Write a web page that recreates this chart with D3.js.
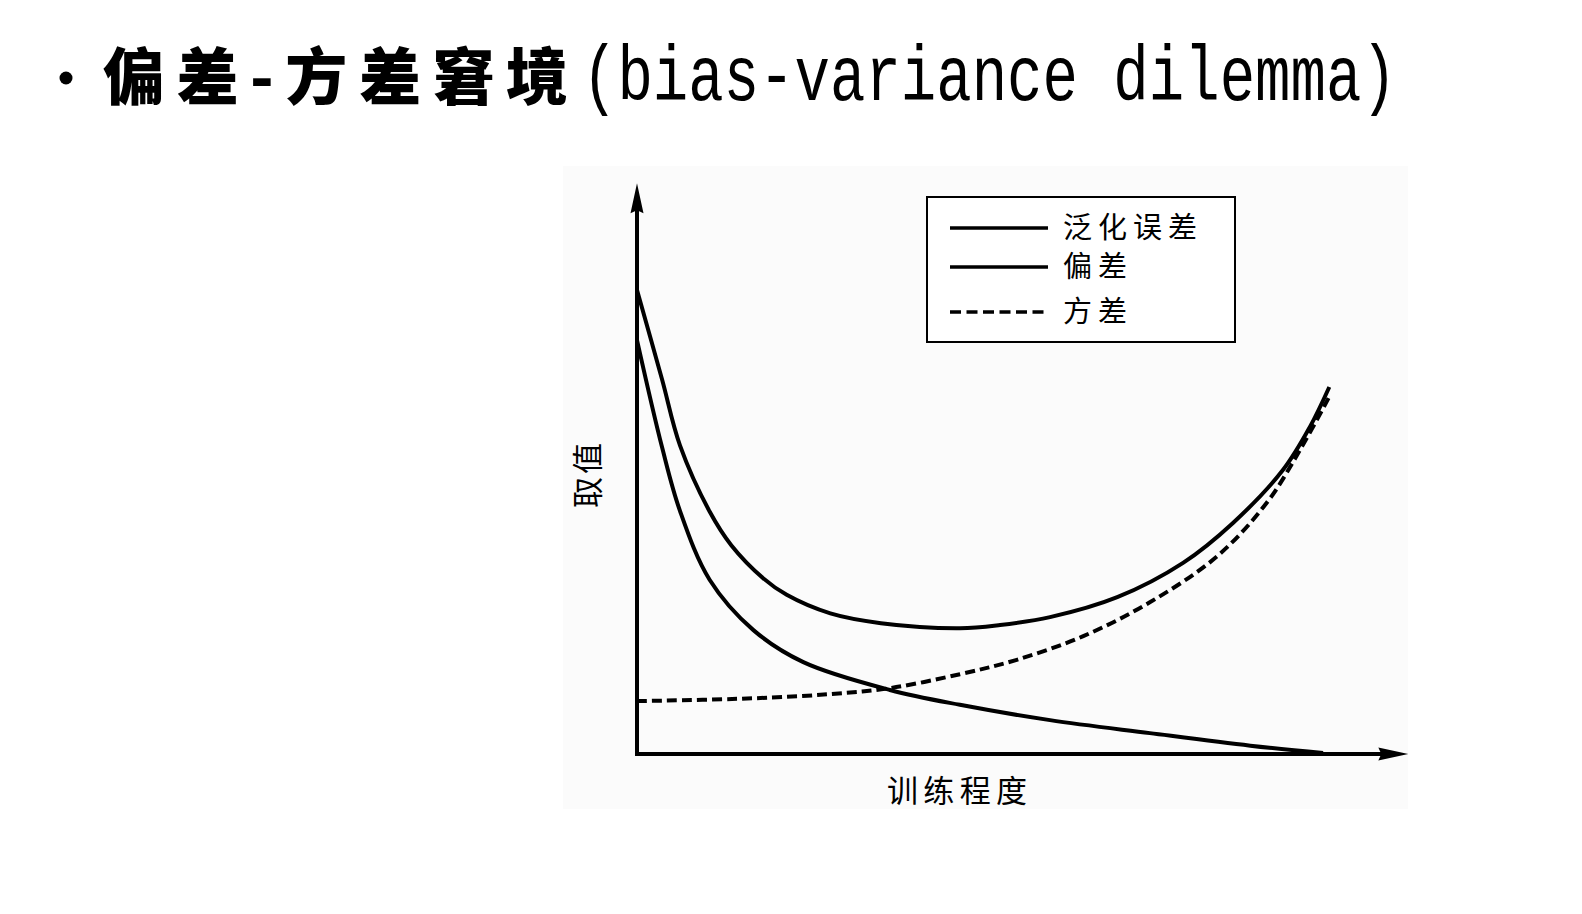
<!DOCTYPE html>
<html>
<head>
<meta charset="utf-8">
<script src="https://cdn.jsdelivr.net/npm/d3@7"></script>
<style>
html,body{margin:0;padding:0;background:#fff;}
svg{display:block;}
</style>
</head>
<body>
<svg id="chart" width="1582" height="914"></svg>
<script>
// ---------------- data ----------------
const titleCN = "偏差-方差窘境";
const titleEN = "(bias-variance dilemma)";
const xLabel = "训练程度";
const yLabel = "取值";
const seriesNames = ["泛化误差", "偏差", "方差"];

// generalization error (x = training degree, y = value)
const genX = [0, 3.6, 6.2, 10.5, 13.6, 18.2, 21.6, 27.9, 35.2, 46.6, 52.4, 59.6, 69.3, 78.8, 86.0, 93.2, 97.1, 99.9];
const genY = [100, 80.8, 66.5, 52.2, 45.0, 37.9, 34.3, 30.3, 28.2, 27.1, 27.8, 29.5, 33.8, 41.2, 49.8, 61.2, 70.5, 79.1];
// bias
const biasX = [0, 3.6, 6.2, 10.5, 16.8, 24.0, 36.5, 46.6, 59.6, 74.0, 88.5, 99.0];
const biasY = [89.2, 66.2, 52.4, 37.5, 26.7, 19.8, 13.8, 10.6, 7.3, 4.5, 1.8, 0.2];
// variance
const varX = [0, 16.7, 27.8, 36.5, 46.6, 54.8, 64.4, 74.0, 83.7, 90.9, 95.7, 99.9];
const varY = [11.4, 12.0, 12.9, 14.2, 17.2, 20.3, 25.4, 32.7, 42.6, 54.2, 65.6, 77.0];

const xAxisEnd = 111.3;
const yAxisEnd = 123;

// ---------------- drawing ----------------
const svg = d3.select("#chart");

const x = d3.scaleLinear().domain([0, 100]).range([637, 1330]);
const y = d3.scaleLinear().domain([0, 100]).range([754, 290]);

// scanned figure background
svg.append("rect").attr("x", 563).attr("y", 166).attr("width", 845).attr("height", 643)
  .attr("fill", "#fbfbfb");

// title
svg.append("circle").attr("cx", 66).attr("cy", 78).attr("r", 6.5).attr("fill", "#000");
svg.append("text").attr("x", 103).attr("y", 100)
  .attr("font-family", "'Noto Sans CJK SC'").attr("font-weight", 900)
  .attr("font-size", 62).attr("textLength", 465).attr("lengthAdjust", "spacing")
  .text(titleCN);
svg.append("text")
  .attr("transform", "translate(582,100) scale(0.757,1)")
  .attr("font-family", "'Liberation Mono', monospace")
  .attr("font-size", 78)
  .attr("fill", "#000")
  .text(titleEN);

// axes with arrows
const axisG = svg.append("g");
const x0 = x(0), y0 = y(0), xEnd = x(xAxisEnd), yEnd = y(yAxisEnd);
axisG.append("line").attr("x1", x0).attr("y1", y0).attr("x2", xEnd - 20).attr("y2", y0)
  .attr("stroke", "#000").attr("stroke-width", 4);
axisG.append("line").attr("x1", x0).attr("y1", y0 + 2).attr("x2", x0).attr("y2", yEnd + 20)
  .attr("stroke", "#000").attr("stroke-width", 4);
axisG.append("path")
  .attr("d", `M${xEnd},${y0} L${xEnd - 30},${y0 - 6.5} L${xEnd - 27},${y0} L${xEnd - 30},${y0 + 6.5} Z`)
  .attr("fill", "#000");
axisG.append("path")
  .attr("d", `M${x0},${yEnd} L${x0 - 6.5},${yEnd + 30} L${x0},${yEnd + 27} L${x0 + 6.5},${yEnd + 30} Z`)
  .attr("fill", "#000");

// curves
const line = d3.line().x(d => x(d[0])).y(d => y(d[1])).curve(d3.curveCatmullRom.alpha(0.5));
const zip = (a, b) => a.map((v, i) => [v, b[i]]);

svg.append("path").datum(zip(genX, genY)).attr("d", line)
  .attr("fill", "none").attr("stroke", "#000").attr("stroke-width", 4);
svg.append("path").datum(zip(biasX, biasY)).attr("d", line)
  .attr("fill", "none").attr("stroke", "#000").attr("stroke-width", 4);
svg.append("path").datum(zip(varX, varY)).attr("d", line)
  .attr("fill", "none").attr("stroke", "#000").attr("stroke-width", 4)
  .attr("stroke-dasharray", "10,5");

// axis labels
svg.append("text").attr("x", 887).attr("y", 802)
  .attr("font-family", "'Noto Sans CJK SC'").attr("font-size", 31)
  .attr("textLength", 140).attr("lengthAdjust", "spacing")
  .text(xLabel);
svg.append("text")
  .attr("transform", "translate(599,508) rotate(-90)")
  .attr("font-family", "'Noto Sans CJK SC'").attr("font-size", 31)
  .attr("textLength", 65).attr("lengthAdjust", "spacing")
  .text(yLabel);

// legend
const legend = svg.append("g");
legend.append("rect").attr("x", 927).attr("y", 197).attr("width", 308).attr("height", 145)
  .attr("fill", "#fff").attr("stroke", "#000").attr("stroke-width", 2);
const legRows = [228, 267, 312];
const legDash = [null, null, "11,5.5"];
const legLen = [134, 64, 64];
seriesNames.forEach((name, i) => {
  legend.append("line").attr("x1", 950).attr("x2", 1048)
    .attr("y1", legRows[i]).attr("y2", legRows[i])
    .attr("stroke", "#000").attr("stroke-width", 3.5)
    .attr("stroke-dasharray", legDash[i]);
  legend.append("text").attr("x", 1063).attr("y", legRows[i] + 10)
    .attr("font-family", "'Noto Sans CJK SC'").attr("font-size", 29)
    .attr("textLength", legLen[i]).attr("lengthAdjust", "spacing")
    .text(name);
});
</script>
</body>
</html>
